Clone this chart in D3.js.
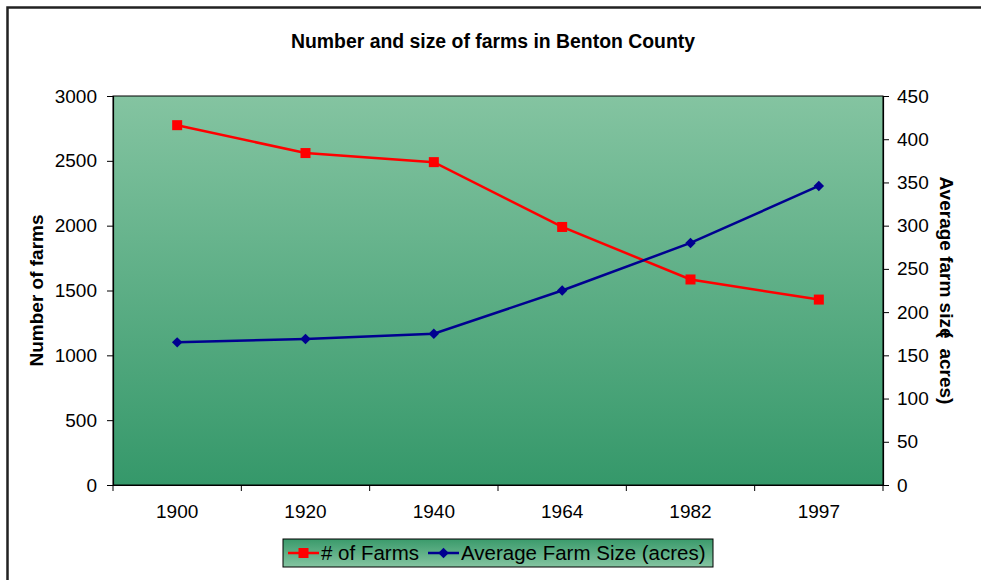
<!DOCTYPE html>
<html>
<head>
<meta charset="utf-8">
<script src="https://cdn.jsdelivr.net/npm/d3@7"></script>
<style>
  body { margin: 0; background: #fff; }
  svg text { font-family: "Liberation Sans", Arial, sans-serif; }
</style>
</head>
<body>
<div id="wrapper"></div>
<script>
const years = ["1900", "1920", "1940", "1964", "1982", "1997"]
const farmCounts = [2775, 2560, 2490, 1990, 1585, 1430]
const farmSizes = [165, 169, 175, 225, 280, 346]
const leftTicks = [0, 500, 1000, 1500, 2000, 2500, 3000]
const rightTicks = [0, 50, 100, 150, 200, 250, 300, 350, 400, 450]

const dimensions = {
  width: 981,
  height: 580,
  margin: { top: 96, right: 98, bottom: 95, left: 113 }
}
dimensions.boundedWidth = dimensions.width - dimensions.margin.left - dimensions.margin.right
dimensions.boundedHeight = dimensions.height - dimensions.margin.top - dimensions.margin.bottom

const wrapper = d3.select("#wrapper")
  .append("svg")
    .attr("width", dimensions.width)
    .attr("height", dimensions.height)

const defs = wrapper.append("defs")
const grad = defs.append("linearGradient")
    .attr("id", "plotGrad")
    .attr("x1", 0).attr("y1", 0).attr("x2", 0).attr("y2", 1)
grad.append("stop").attr("offset", "0%").attr("stop-color", "#84c4a1")
grad.append("stop").attr("offset", "100%").attr("stop-color", "#35986a")

const legGrad = defs.append("linearGradient")
    .attr("id", "legGrad")
    .attr("x1", 0).attr("y1", 0).attr("x2", 0).attr("y2", 1)
legGrad.append("stop").attr("offset", "0%").attr("stop-color", "#3a9a6b")
legGrad.append("stop").attr("offset", "100%").attr("stop-color", "#84c4a1")

// outer chart border (runs off the page on right and bottom)
wrapper.append("rect")
    .attr("x", 7.5).attr("y", 7.5)
    .attr("width", 1000).attr("height", 600)
    .attr("fill", "none")
    .attr("stroke", "#222")
    .attr("stroke-width", 2.5)

const bounds = wrapper.append("g")
    .attr("transform", `translate(${dimensions.margin.left},${dimensions.margin.top})`)

bounds.append("rect")
    .attr("width", dimensions.boundedWidth)
    .attr("height", dimensions.boundedHeight)
    .attr("fill", "url(#plotGrad)")
    .attr("stroke", "#000")
    .attr("stroke-width", 1)

const xScale = d3.scaleBand()
    .domain(years)
    .range([0, dimensions.boundedWidth])
const xAccessor = (d, i) => xScale(years[i]) + xScale.bandwidth() / 2

const yScale = d3.scaleLinear()
    .domain([0, 3000])
    .range([dimensions.boundedHeight, 0])

const y2Scale = d3.scaleLinear()
    .domain([0, 450])
    .range([dimensions.boundedHeight, 0])

// axes
const yAxis = bounds.append("g")
    .call(d3.axisLeft(yScale).tickValues(leftTicks).tickFormat(d3.format("d"))
      .tickSize(6).tickPadding(10))
const y2Axis = bounds.append("g")
    .attr("transform", `translate(${dimensions.boundedWidth},0)`)
    .call(d3.axisRight(y2Scale).tickValues(rightTicks).tickFormat(d3.format("d"))
      .tickSize(6).tickPadding(8))
const xAxis = bounds.append("g")
    .attr("transform", `translate(0,${dimensions.boundedHeight})`)
    .call(d3.axisBottom(xScale).tickSize(0).tickPadding(20))

// category boundary ticks
const boundaries = years.map(y => xScale(y)).concat([dimensions.boundedWidth])
xAxis.selectAll(".bound")
    .data(boundaries)
    .enter().append("line")
      .attr("x1", d => d).attr("x2", d => d)
      .attr("y1", 0).attr("y2", 6)
      .attr("stroke", "#000")

;[yAxis, y2Axis, xAxis].forEach(a => {
  a.select(".domain").attr("stroke", "#000").attr("stroke-width", 1.2)
  a.selectAll(".tick line").attr("stroke", "#000")
  a.selectAll("text")
    .attr("fill", "#000")
    .style("font-size", "19px")
    .style("font-family", "'Liberation Sans', Arial, sans-serif")
})
xAxis.selectAll(".tick text").attr("dy", "0.71em")

// lines
const farmLine = d3.line()
    .x(xAccessor)
    .y(d => yScale(d))
const sizeLine = d3.line()
    .x(xAccessor)
    .y(d => y2Scale(d))

bounds.append("path")
    .attr("d", farmLine(farmCounts))
    .attr("fill", "none")
    .attr("stroke", "#ff0000")
    .attr("stroke-width", 2.5)

bounds.append("path")
    .attr("d", sizeLine(farmSizes))
    .attr("fill", "none")
    .attr("stroke", "#000090")
    .attr("stroke-width", 2.5)

bounds.selectAll(".sq")
    .data(farmCounts)
    .enter().append("rect")
      .attr("x", (d, i) => xAccessor(d, i) - 5)
      .attr("y", d => yScale(d) - 5)
      .attr("width", 10)
      .attr("height", 10)
      .attr("fill", "#ff0000")

const diamond = d3.symbol().type(d3.symbolDiamond2).size(70)
bounds.selectAll(".dm")
    .data(farmSizes)
    .enter().append("path")
      .attr("d", diamond)
      .attr("transform", (d, i) => `translate(${xAccessor(d, i)},${y2Scale(d)})`)
      .attr("fill", "#000090")

// title and axis labels
wrapper.append("text")
    .attr("x", 493)
    .attr("y", 48)
    .attr("text-anchor", "middle")
    .style("font-size", "19.4px")
    .style("font-weight", "bold")
    .text("Number and size of farms in Benton County")

wrapper.append("text")
    .attr("transform", `translate(43,${dimensions.margin.top + dimensions.boundedHeight / 2}) rotate(-90)`)
    .attr("text-anchor", "middle")
    .style("font-size", "19px")
    .style("font-weight", "bold")
    .text("Number of farms")

const rightLabel = wrapper.append("text")
    .attr("transform", `translate(940,${dimensions.margin.top + dimensions.boundedHeight / 2}) rotate(90)`)
    .attr("text-anchor", "middle")
    .style("font-size", "19px")
    .style("font-weight", "bold")
rightLabel.append("tspan").text("Average farm size")
rightLabel.append("tspan").attr("dx", -7).text("(\u00a0\u00a0acres)")

// legend
const legend = wrapper.append("g")
    .attr("transform", "translate(283,539)")
legend.append("rect")
    .attr("width", 430)
    .attr("height", 28)
    .attr("fill", "url(#legGrad)")
    .attr("stroke", "#000")
    .attr("stroke-width", 1)

const legendItems = [
  { label: "# of Farms", color: "#ff0000", x: 5, marker: "square" },
  { label: "Average Farm Size (acres)", color: "#000090", x: 145, marker: "diamond" }
]
legendItems.forEach(item => {
  const g = legend.append("g").attr("transform", `translate(${item.x},14)`)
  g.append("line")
      .attr("x1", 0).attr("x2", 31)
      .attr("stroke", item.color)
      .attr("stroke-width", 2.5)
  if (item.marker === "square") {
    g.append("rect")
        .attr("x", 10.5).attr("y", -5)
        .attr("width", 10).attr("height", 10)
        .attr("fill", item.color)
  } else {
    g.append("path")
        .attr("d", diamond)
        .attr("transform", "translate(15.5,0)")
        .attr("fill", item.color)
  }
  g.append("text")
      .attr("x", 33)
      .attr("dy", "0.35em")
      .style("font-size", "20.5px")
      .text(item.label)
})
</script>
</body>
</html>
